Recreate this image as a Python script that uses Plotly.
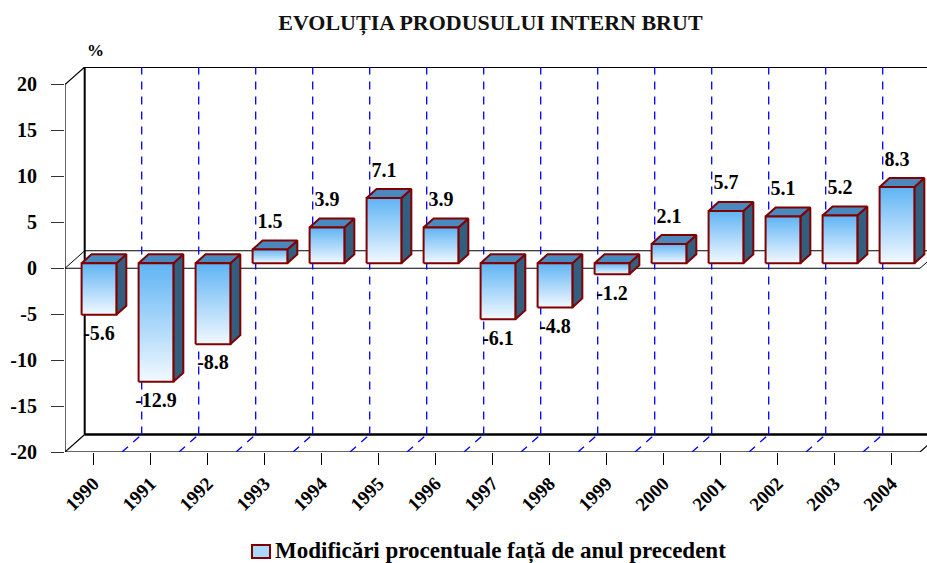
import plotly.graph_objects as go

years = ["1990", "1991", "1992", "1993", "1994", "1995", "1996", "1997",
         "1998", "1999", "2000", "2001", "2002", "2003", "2004"]
growth = [-5.6, -12.9, -8.8, 1.5, 3.9, 7.1, 3.9, -6.1, -4.8, -1.2,
          2.1, 5.7, 5.1, 5.2, 8.3]
y_ticks = [-20, -15, -10, -5, 0, 5, 10, 15, 20]

TITLE = "EVOLUȚIA PRODUSULUI INTERN BRUT"
SERIES = "Modificări procentuale față de anul precedent"

FONT = "Liberation Serif"
RED = "#800000"
FRONT_SCALE = [[0, "#f2f9ff"], [1, "#5fb4f4"]]
TOP = "#4a89bd"
SIDE = "#325e80"
GRID = "#0000ff"

# plot area in pixels (front plane of the box)
L, T, B = 65, 67, 111
PW, PH = 927 - L, 563 - T - B
PX_PER_CAT = 57

# depth of the 3d box (data units) and bar geometry
DX, DY = 19.7 / PX_PER_CAT, 1.904
OX, OY = 0.096, 0.54
HW = 0.305
BDX, BDY = 0.175, 0.98

n = len(years)
xl, xr = -0.5, n - 0.5
ymin, ymax = y_ticks[0], y_ticks[-1]

fig = go.Figure()


def seg(x0, y0, x1, y1, color="black", width=1.5):
    fig.add_shape(type="line", x0=x0, y0=y0, x1=x1, y1=y1, layer="below",
                  line=dict(color=color, width=width))


def px_x(p):
    return (p - L) / PW


def px_y(p):
    return (T + PH - p) / PH


# blue dashed grid on the back wall and the floor
gx, gy = [], []
for k in range(n - 1):
    xb = k + 0.5
    gx += [xb + DX, xb + DX, None, xb, xb + DX, None]
    gy += [ymin + DY, ymax + DY, None, ymin, ymin + DY, None]
fig.add_trace(go.Scatter(x=gx, y=gy, mode="lines", showlegend=False,
                         hoverinfo="skip",
                         line=dict(color=GRID, width=1.3, dash="8px,7px")))

# box frame
seg(xl, ymin, xl, ymax, "#333333", 1.5)
seg(xl, ymax, xl + DX, ymax + DY, "black", 1.2)
seg(xl + DX, ymin + DY, xl + DX, ymax + DY, "black", 2)
seg(xl + DX, ymax + DY, xr + DX, ymax + DY, "black", 2)
seg(xl + DX, ymin + DY, xr + DX, ymin + DY, "black", 2.5)
seg(xl, ymin, xr, ymin, "#333333", 1.5)
seg(xl, ymin, xl + DX, ymin + DY, "black", 1.2)
seg(xr, ymin, xr + DX, ymin + DY, "black", 1.2)
seg(xl, 0, xr, 0, "black", 1)
seg(xl + DX, DY, xr + DX, DY, "black", 1)
seg(xl, 0, xl + DX, DY, "black", 1)
seg(xr, 0, xr + DX, DY, "black", 1)

# 3d bars
for i, v in enumerate(growth):
    x0, x1 = i + OX - HW, i + OX + HW
    lo, hi = min(0, v) + OY, max(0, v) + OY
    common = dict(mode="lines", fill="toself", showlegend=False,
                  hoverinfo="skip", line=dict(color=RED, width=2))
    fig.add_trace(go.Scatter(
        x=[x1, x1 + BDX, x1 + BDX, x1, x1],
        y=[lo, lo + BDY, hi + BDY, hi, lo],
        fillcolor=SIDE, **common))
    fig.add_trace(go.Scatter(
        x=[x0, x1, x1 + BDX, x0 + BDX, x0],
        y=[hi, hi, hi + BDY, hi + BDY, hi],
        fillcolor=TOP, **common))
    fig.add_trace(go.Scatter(
        x=[x0, x1, x1, x0, x0],
        y=[lo, lo, hi, hi, lo],
        fillgradient=dict(type="vertical", colorscale=FRONT_SCALE), **common))

# value labels
lab_x = [i + OX for i in range(n)]
lab_y = [v + OY + BDY + 1.9 if v > 0 else v + OY - 2.2 for v in growth]
fig.add_trace(go.Scatter(
    x=lab_x, y=lab_y, mode="text", text=[f"{v:.1f}" for v in growth],
    textposition="middle center", showlegend=False, hoverinfo="skip",
    textfont=dict(family=FONT, size=20, color="black", weight="bold"),
    cliponaxis=False))

# "%" unit above the value axis
fig.add_annotation(text="%", xref="paper", yref="paper",
                   x=px_x(95), y=px_y(51), xanchor="center", yanchor="middle",
                   showarrow=False,
                   font=dict(family=FONT, size=17, color="black", weight="bold"))

# legend: key box + series name
fig.add_shape(type="rect", xref="paper", yref="paper",
              x0=px_x(252), x1=px_x(270), y0=px_y(558), y1=px_y(545),
              fillcolor="#a9d9fb", line=dict(color=RED, width=2))
fig.add_annotation(text=SERIES, xref="paper", yref="paper",
                   x=px_x(273), y=px_y(551), xanchor="left", yanchor="middle",
                   showarrow=False,
                   font=dict(family=FONT, size=23, color="black", weight="bold"))

fig.update_xaxes(
    range=[xl, xl + PW / PX_PER_CAT], tickvals=list(range(n)), ticktext=years,
    tickangle=-45, ticks="outside", ticklen=12, tickcolor="black",
    showgrid=False, zeroline=False, showline=False, automargin=False,
    tickfont=dict(family=FONT, size=19, color="black", weight="bold"))
fig.update_yaxes(
    range=[ymin, ymax + DY], tickvals=y_ticks,
    ticktext=[str(t) for t in y_ticks],
    ticks="outside", ticklen=13, tickcolor="#333333", ticklabelstandoff=10,
    showgrid=False, zeroline=False, showline=False, automargin=False,
    tickfont=dict(family=FONT, size=20, color="black", weight="bold"))

fig.update_layout(
    width=927, height=563,
    margin=dict(l=L, r=0, t=T, b=B, autoexpand=False),
    paper_bgcolor="white", plot_bgcolor="white",
    title=dict(text=TITLE, xref="container", x=0.529, y=0.961,
               xanchor="center", yanchor="middle",
               font=dict(family=FONT, size=22, color="#111111", weight="bold")),
    showlegend=False,
)

fig.write_html("out.html", config={"displayModeBar": False},
               post_script="document.body.style.margin='0';")
